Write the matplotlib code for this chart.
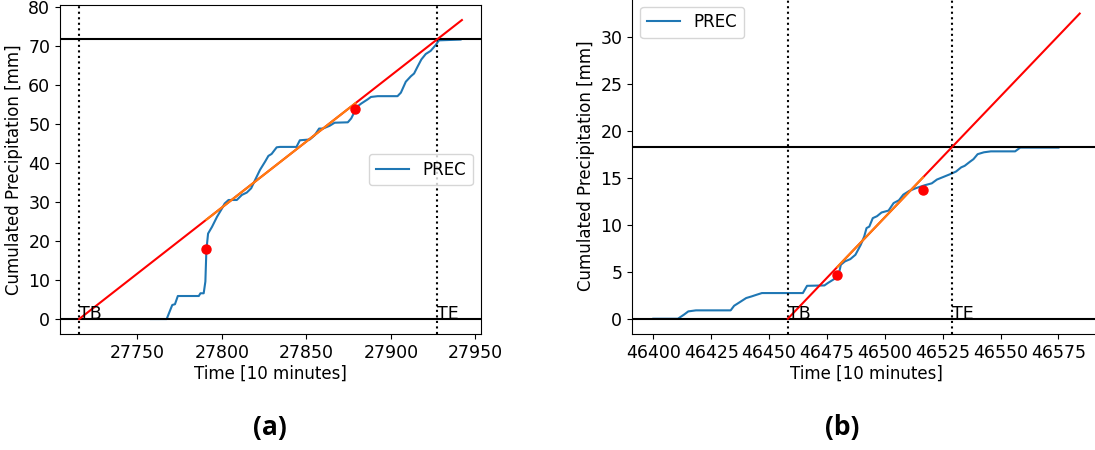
import numpy as np
import matplotlib
matplotlib.use("Agg")
import matplotlib.pyplot as plt

plt.rcParams['font.size'] = 12.5
plt.rcParams['axes.labelsize'] = 12
plt.rcParams['legend.fontsize'] = 12

# event (a)
time_a = [27758, 27767.3, 27770.6, 27772.2, 27773.9, 27786.3, 27787.3, 27789.2, 27790.2, 27790.8,
          27791.8, 27794.1, 27797.1, 27800, 27801.6, 27803.9, 27808.8, 27811.8, 27814.7, 27817.3,
          27819.6, 27822.5, 27825.5, 27827.5, 27829.4, 27832.4, 27834.3, 27844.1, 27846.1, 27852,
          27854.9, 27857.5, 27859.8, 27863.7, 27866.7, 27874.5, 27876.5, 27878, 27879.4, 27882.4,
          27886.3, 27888.2, 27892.2, 27903.9, 27905.9, 27908.8, 27911.8, 27913.7, 27915.7, 27918,
          27920.6, 27923.5, 27926.5, 27928.4, 27941.2]
prec_a = [0, 0, 3.6, 3.8, 5.9, 5.9, 6.6, 6.6, 9.6, 17.7,
          21.9, 23.6, 26.2, 28.3, 29.6, 30.5, 30.5, 31.8, 32.4, 33.5,
          35.6, 38.2, 40.3, 41.8, 42.3, 44.0, 44.1, 44.1, 45.8, 46.0,
          47.1, 48.8, 48.8, 49.5, 50.3, 50.4, 51.4, 52.7, 54.2, 55.2,
          56.3, 56.9, 57.1, 57.1, 58.0, 60.8, 62.2, 62.9, 64.6, 66.5,
          67.9, 68.7, 70.2, 71.4, 71.6]
tb_a, te_a, total_a, tend_a = 27715.5, 27927.5, 71.7, 27942.0
dots_t_a = [27790.8, 27879.0]
dots_p_a = [18.0, 53.8]

# event (b)
time_b = [46400, 46410.6, 46413.2, 46415.1, 46418.4, 46433.4, 46434.9, 46437.2, 46440.1, 46442.4,
          46444.6, 46446.9, 46464.6, 46466.4, 46473.9, 46475.4, 46477.6, 46479.9, 46481.0, 46482.8,
          46485.1, 46487.3, 46489.6, 46491.1, 46492.1, 46493.3, 46494.8, 46496.6, 46498.6, 46501.6,
          46503.8, 46506.1, 46508, 46510.6, 46513.6, 46517.3, 46520.3, 46522.5, 46525.5, 46528.5,
          46530.8, 46533, 46534.5, 46536.8, 46538.3, 46540.1, 46542.8, 46545.8, 46556.3, 46558.5,
          46575]
prec_b = [0, 0, 0.43, 0.78, 0.89, 0.89, 1.38, 1.74, 2.2, 2.37,
          2.55, 2.73, 2.73, 3.5, 3.54, 3.8, 4.14, 4.5, 5.74, 6.1,
          6.34, 6.8, 7.86, 8.75, 9.64, 9.8, 10.7, 10.9, 11.3, 11.5,
          12.3, 12.6, 13.2, 13.6, 13.9, 14.2, 14.4, 14.8, 15.1, 15.4,
          15.66, 16.1, 16.26, 16.7, 16.97, 17.5, 17.7, 17.8, 17.8, 18.2,
          18.2]
tb_b, te_b, total_b, tend_b = 46458.1, 46529.2, 18.3, 46584.2
dots_t_b = [46479.5, 46516.5]
dots_p_b = [4.6, 13.7]


def plot_event(ax, t, p, tb, te, total, tend, dots_t, dots_p, legend_loc):
    ax.plot(t, p, color='C0', linewidth=1.5, label='PREC')
    ax.axhline(0, color='k', linewidth=1.5)
    ax.axhline(total, color='k', linewidth=1.5)
    ax.axvline(tb, color='k', linestyle=':', linewidth=1.5)
    ax.axvline(te, color='k', linestyle=':', linewidth=1.5)
    ax.text(tb, 0, 'TB')
    ax.text(te, 0, 'TE')

    # line through (TB, 0) and (TE, total), highlighted between the two markers
    slope = total / (te - tb)
    t_line = np.array([tb, tend])
    ax.plot(t_line, slope * (t_line - tb), color='r', linewidth=1.5)
    t_seg = np.array(dots_t)
    ax.plot(t_seg, slope * (t_seg - tb), color='C1', linewidth=1.5)
    ax.plot(dots_t, dots_p, 'ro', markersize=6.5)

    ax.set_xlabel('Time [10 minutes]', labelpad=2)
    ax.set_ylabel('Cumulated Precipitation [mm]')
    ax.legend(loc=legend_loc)


def main():
    fig = plt.figure(figsize=(10.95, 4.5), dpi=100)
    ax_a = fig.add_axes([0.0548, 0.2578, 0.3845, 0.7309])
    ax_b = fig.add_axes([0.5772, 0.2578, 0.4283, 0.746])

    plot_event(ax_a, time_a, prec_a, tb_a, te_a, total_a, tend_a, dots_t_a, dots_p_a, 'center right')
    plot_event(ax_b, time_b, prec_b, tb_b, te_b, total_b, tend_b, dots_t_b, dots_p_b, 'upper left')
    ax_a.set_yticks(np.arange(0, 81, 10))

    for x, lab in [(0.2466, '(a)'), (0.769, '(b)')]:
        fig.text(x, 0.05, lab, fontsize=19, fontweight='bold',
                 family=['Open Sans', 'DejaVu Sans'], ha='center', va='center')

    fig.savefig('out.png', dpi=100)
    plt.close(fig)


if __name__ == "__main__":
    main()
